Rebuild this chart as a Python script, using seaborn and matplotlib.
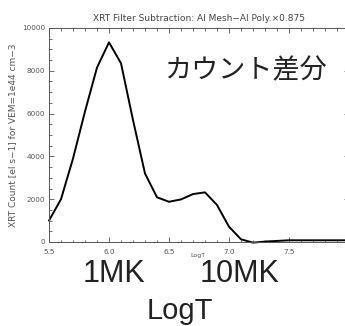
import numpy as np
import pandas as pd
import seaborn as sns
import matplotlib
matplotlib.use("Agg")
import matplotlib.pyplot as plt
from matplotlib.ticker import MultipleLocator

logT = [5.5, 5.6, 5.7, 5.8, 5.9, 6.0, 6.1, 6.2, 6.3, 6.4, 6.5, 6.6, 6.7, 6.8,
        6.9, 7.0, 7.1, 7.2, 7.3, 7.4, 7.5, 7.6, 7.7, 7.8, 7.9, 8.0]
counts = [1000, 2000, 3900, 6100, 8150, 9330, 8350, 5700, 3200, 2090, 1880, 1990,
          2240, 2320, 1730, 715, 125, -30, 20, 50, 80, 80, 80, 80, 80, 80]
xticks = [5.5, 6.0, 6.5, 7.0, 7.5, 8.0]
xticklabels = ["5.5", "6.0", "6.5", "7.0", "7.5", "8"]
yticks = [0, 2000, 4000, 6000, 8000, 10000]
yticklabels = ["0", "2000", "4000", "6000", "8000", "10000"]
title = "XRT Filter Subtraction: Al Mesh\u2212Al Poly.\u00d70.875"
ylabel = "XRT Count [el s\u22121] for VEM=1e44 cm\u22123"
xlabel = "LogT"
jp_label = "カウント差分"
mk_labels = ["1MK", "10MK"]
big_xlabel = "LogT"

df = pd.DataFrame({"logT": logT, "counts": counts})

sns.set_theme(style="white")
plt.rcParams['font.family'] = ['DejaVu Sans']

W, H = 345, 326
fig = plt.figure(figsize=(W / 100, H / 100), dpi=100)
ax = fig.add_axes([49 / W, 1 - 242 / H, 300 / W, 214 / H])

sns.lineplot(data=df, x="logT", y="counts", ax=ax, color="black", lw=1.4, clip_on=False)

ax.set_xlim(5.5, 8.0)
ax.set_ylim(0, 10000)
ax.set_xticks(xticks)
ax.set_xticklabels(xticklabels)
ax.set_yticks(yticks)
ax.set_yticklabels(yticklabels)
ax.xaxis.set_minor_locator(MultipleLocator(0.1))
ax.yaxis.set_minor_locator(MultipleLocator(500))
gray = "#555555"
ax.tick_params(which="both", direction="in", top=True, right=True, bottom=True, left=True,
               color=gray, width=0.6, labelsize=5.2, labelcolor=gray)
ax.tick_params(which="major", length=3.5)
ax.tick_params(which="minor", length=1.8)
ax.tick_params(axis="x", which="major", pad=5)
ax.tick_params(axis="y", which="major", pad=3)
for s in ax.spines.values():
    s.set_color(gray)
    s.set_linewidth(0.7)

ax.set_title(title, fontsize=6.5, color="#444444", pad=5)
ax.set_ylabel(ylabel, fontsize=6.5, color=gray, labelpad=3)
ax.set_xlabel("")
fig.text(198 / W, 1 - 255 / H, xlabel, fontsize=4.5, color=gray, ha="center", va="center")

fig.text(245 / W, 1 - 71 / H, jp_label, fontsize=19.5, color="#222222",
         ha="center", va="center", family=['Noto Sans CJK JP', 'DejaVu Sans'])
big = ['Liberation Sans', 'DejaVu Sans']
fig.text(114 / W, 1 - 274 / H, mk_labels[0], fontsize=22, color="#222222",
         ha="center", va="center", family=big)
fig.text(240 / W, 1 - 274 / H, mk_labels[1], fontsize=22, color="#222222",
         ha="center", va="center", family=big)
fig.text(180 / W, 1 - 319 / H, big_xlabel, fontsize=21, color="#222222",
         ha="center", va="baseline", family=big)

fig.savefig("out.png", dpi=100)
